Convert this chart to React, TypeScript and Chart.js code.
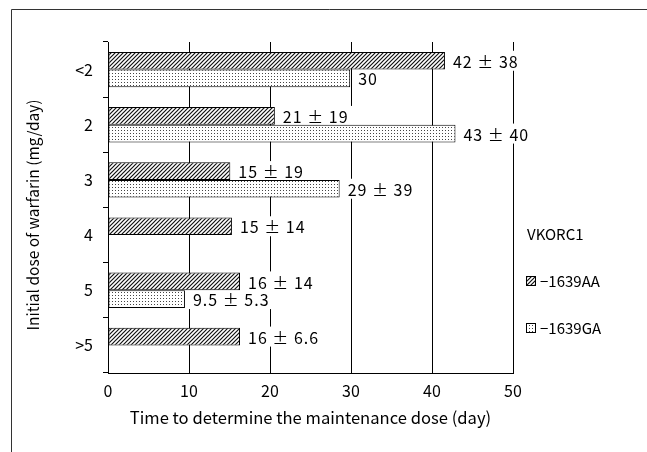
import React, { useEffect, useRef } from "react";
import { Chart, registerables } from "chart.js";

Chart.register(...registerables);

const categories = ["<2", "2", "3", "4", "5", ">5"];
const aaValues: (number | null)[] = [41.6, 20.6, 15.1, 15.3, 16.3, 16.3];
const gaValues: (number | null)[] = [29.9, 42.9, 28.6, null, 9.5, null];
const aaLabels = ["42 ± 38", "21 ± 19", "15 ± 19", "15 ± 14", "16 ± 14", "16 ± 6.6"];
const gaLabels = ["30", "43 ± 40", "29 ± 39", "", "9.5 ± 5.3", ""];
const seriesNames = ["-1639AA", "-1639GA"];
const legendTitle = "VKORC1";
const xTitle = "Time to determine the maintenance dose (day)";
const yTitle = "Initial dose of warfarin (mg/day)";
const xMin = 0;
const xMax = 50;
const xStep = 10;

const FONT = "'Noto Sans CJK JP', 'Noto Sans', sans-serif";

function makeHatch(): CanvasPattern | string {
  const c = document.createElement("canvas");
  c.width = 4;
  c.height = 4;
  const g = c.getContext("2d");
  if (!g) return "#444";
  g.fillStyle = "#fff";
  g.fillRect(0, 0, 4, 4);
  g.strokeStyle = "#111";
  g.lineWidth = 1.2;
  g.beginPath();
  g.moveTo(-1, 5);
  g.lineTo(5, -1);
  g.moveTo(-1, 1);
  g.lineTo(1, -1);
  g.moveTo(3, 5);
  g.lineTo(5, 3);
  g.stroke();
  return g.createPattern(c, "repeat") || "#444";
}

function makeDots(): CanvasPattern | string {
  const c = document.createElement("canvas");
  c.width = 3;
  c.height = 3;
  const g = c.getContext("2d");
  if (!g) return "#ddd";
  g.fillStyle = "#fff";
  g.fillRect(0, 0, 3, 3);
  g.fillStyle = "#444";
  g.fillRect(1, 1, 1, 1);
  return g.createPattern(c, "repeat") || "#ddd";
}

export default function App() {
  const ref = useRef<HTMLCanvasElement | null>(null);

  useEffect(() => {
    const canvas = ref.current;
    if (!canvas) return;
    const hatch = makeHatch();
    const dots = makeDots();
    const fills = [hatch, dots];
    const labelSets = [aaLabels, gaLabels];
    const labelFont = `16px ${FONT}`;
    const offset = 8;

    const framePlugin = {
      id: "frame",
      beforeDraw(chart: any) {
        const ctx = chart.ctx;
        ctx.save();
        ctx.fillStyle = "#fff";
        ctx.fillRect(0, 0, chart.width, chart.height);
        ctx.strokeStyle = "#333";
        ctx.lineWidth = 1;
        ctx.beginPath();
        ctx.moveTo(11.5, chart.height + 5);
        ctx.lineTo(11.5, 9.5);
        ctx.lineTo(chart.width + 5, 9.5);
        ctx.stroke();
        ctx.restore();
      },
      afterDraw(chart: any) {
        const ctx = chart.ctx;
        ctx.save();
        ctx.translate(33, 215);
        ctx.rotate(-Math.PI / 2);
        ctx.font = `15.5px ${FONT}`;
        ctx.fillStyle = "#000";
        ctx.textAlign = "center";
        ctx.textBaseline = "middle";
        ctx.fillText(yTitle, 0, 0);
        ctx.restore();
      },
    };

    const labelPlugin = {
      id: "valueLabels",
      beforeDatasetsDraw(chart: any) {
        const ctx = chart.ctx;
        ctx.save();
        ctx.font = labelFont;
        (ctx as any).letterSpacing = "1px";
        ctx.fillStyle = "#fff";
        labelSets.forEach((set, di) => {
          const meta = chart.getDatasetMeta(di);
          set.forEach((txt, i) => {
            if (!txt) return;
            const el: any = meta.data[i];
            if (!el) return;
            const w = ctx.measureText(txt).width;
            ctx.fillRect(el.x + offset - 4, el.y - 10, w + 8, 20);
          });
        });
        ctx.restore();
      },
      afterDatasetsDraw(chart: any) {
        const ctx = chart.ctx;
        ctx.save();
        ctx.font = labelFont;
        (ctx as any).letterSpacing = "1px";
        ctx.fillStyle = "#000";
        ctx.textAlign = "left";
        ctx.textBaseline = "middle";
        labelSets.forEach((set, di) => {
          const meta = chart.getDatasetMeta(di);
          set.forEach((txt, i) => {
            if (!txt) return;
            const el: any = meta.data[i];
            if (!el) return;
            ctx.fillText(txt, el.x + offset, el.y + 1);
          });
        });
        ctx.restore();
      },
    };

    const legendPlugin = {
      id: "customLegend",
      afterDraw(chart: any) {
        const ctx = chart.ctx;
        const x0 = chart.chartArea.right + 14;
        ctx.save();
        ctx.font = `15px ${FONT}`;
        ctx.fillStyle = "#000";
        ctx.textAlign = "left";
        ctx.textBaseline = "middle";
        ctx.fillText(legendTitle, x0, 234);
        seriesNames.forEach((name, i) => {
          const y = 281 + i * 47;
          ctx.fillStyle = fills[i] as any;
          ctx.fillRect(x0 - 0.5, y - 4.5, 9, 9);
          ctx.strokeStyle = "#000";
          ctx.lineWidth = 1;
          ctx.strokeRect(x0 - 0.5, y - 4.5, 9, 9);
          ctx.fillStyle = "#000";
          ctx.fillText(name.replace("-", "−"), x0 + 13, y);
        });
        ctx.restore();
      },
    };

    const chart = new Chart(canvas, {
      type: "bar",
      data: {
        labels: categories,
        datasets: [
          {
            label: seriesNames[0],
            data: aaValues as any,
            backgroundColor: hatch as any,
            borderColor: "#000",
            borderWidth: 1,
            borderSkipped: false,
            categoryPercentage: 0.64,
            barPercentage: 1,
          },
          {
            label: seriesNames[1],
            data: gaValues as any,
            backgroundColor: dots as any,
            borderColor: "#000",
            borderWidth: 1,
            borderSkipped: false,
            categoryPercentage: 0.64,
            barPercentage: 1,
          },
        ],
      },
      options: {
        indexAxis: "y",
        responsive: false,
        animation: false,
        devicePixelRatio: 1,
        layout: { padding: { left: 0, top: 42, right: 134, bottom: 0 } },
        plugins: {
          legend: { display: false },
          tooltip: { enabled: false },
        },
        scales: {
          x: {
            type: "linear",
            position: "bottom",
            min: xMin,
            max: xMax,
            ticks: {
              stepSize: xStep,
              color: "#000",
              padding: 8,
              font: { family: FONT, size: 16 },
            },
            grid: {
              color: "#000",
              lineWidth: 1,
              drawTicks: false,
              drawOnChartArea: true,
            },
            border: { display: true, color: "#000", width: 1 },
            title: {
              display: true,
              text: xTitle,
              color: "#000",
              font: { family: FONT, size: 16.6 },
              padding: { top: 0, bottom: 24 },
            },
            afterFit(scale: any) {
              scale.height = 79;
            },
          },
          y: {
            type: "category",
            position: "left",
            ticks: {
              color: "#000",
              padding: 10,
              font: { family: FONT, size: 16 },
            },
            grid: {
              offset: true,
              color: "#000",
              lineWidth: 1,
              drawOnChartArea: false,
              drawTicks: true,
              tickLength: 5,
            },
            border: { display: true, color: "#000", width: 1 },
            title: { display: false, text: yTitle },
            afterFit(scale: any) {
              scale.width = 108;
            },
          },
        },
      },
      plugins: [framePlugin, labelPlugin, legendPlugin],
    } as any);

    return () => chart.destroy();
  }, []);

  return (
    <div style={{ position: "fixed", left: 0, top: 0, width: 647, height: 452, background: "#fff" }}>
      <canvas ref={ref} width={647} height={452} style={{ display: "block" }} />
    </div>
  );
}
